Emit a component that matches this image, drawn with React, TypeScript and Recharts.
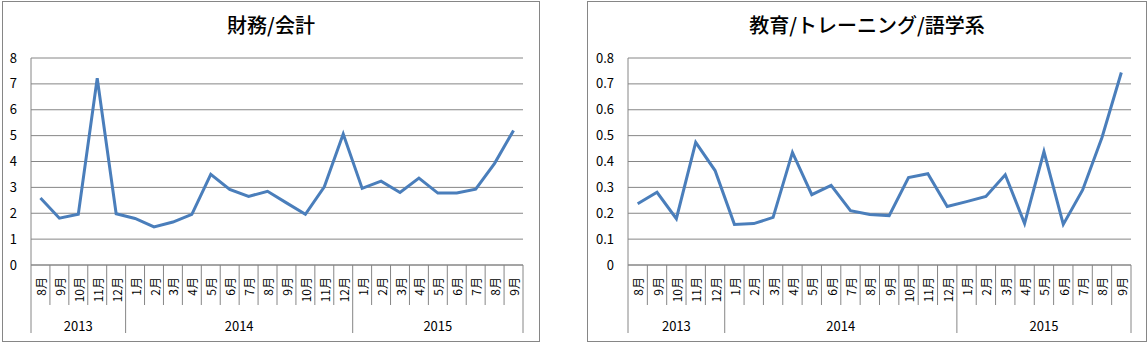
import React from 'react';
import { LineChart, Line, XAxis, YAxis, CartesianGrid } from 'recharts';

const months = [
  '8月', '9月', '10月', '11月', '12月',
  '1月', '2月', '3月', '4月', '5月', '6月', '7月', '8月', '9月', '10月', '11月', '12月',
  '1月', '2月', '3月', '4月', '5月', '6月', '7月', '8月', '9月',
];
const years = ['2013', '2014', '2015'];
const yearSpans = [5, 12, 9];

const financeValues = [
  2.59, 1.81, 1.96, 7.22, 1.98,
  1.8, 1.47, 1.66, 1.96, 3.5, 2.92, 2.65, 2.85, 2.4, 1.96, 3.02, 5.06,
  2.96, 3.24, 2.8, 3.36, 2.78, 2.78, 2.93, 3.93, 5.2,
];
const educationValues = [
  0.237, 0.281, 0.179, 0.474, 0.365,
  0.157, 0.16, 0.184, 0.435, 0.272, 0.308, 0.21, 0.195, 0.191, 0.338, 0.353, 0.226,
  0.245, 0.265, 0.349, 0.16, 0.438, 0.157, 0.29, 0.493, 0.744,
];
const financeTicks = [0, 1, 2, 3, 4, 5, 6, 7, 8];
const educationTicks = [0, 0.1, 0.2, 0.3, 0.4, 0.5, 0.6, 0.7, 0.8];

const GRID = '#868686';
const LINE = '#4a7ebb';
const FONT = '"Noto Sans CJK JP", "Noto Sans", sans-serif';

const groupStarts: number[] = [];
const groupEnds: number[] = [];
yearSpans.reduce((acc, n) => {
  groupStarts.push(acc);
  groupEnds.push(acc + n - 1);
  return acc + n;
}, 0);

const MonthTick = (props: any) => {
  const { x, y, payload, band } = props;
  const i = payload.value as number;
  const g = groupStarts.indexOf(i);
  const isEnd = groupEnds.includes(i);
  return (
    <g>
      <text
        x={x}
        y={y + 12}
        transform={`rotate(-90 ${x} ${y + 12})`}
        textAnchor="end"
        dominantBaseline="central"
        fontSize={12}
        fill="#000"
        fontFamily={FONT}
      >
        {months[i]}
      </text>
      {i === 0 && <line x1={x - band / 2} x2={x - band / 2} y1={y} y2={y + 68} stroke={GRID} />}
      <line x1={x + band / 2} x2={x + band / 2} y1={y} y2={y + (isEnd ? 68 : 40)} stroke={GRID} />
      {g >= 0 && (
        <text
          x={x - band / 2 + (yearSpans[g] * band) / 2}
          y={y + 60}
          textAnchor="middle"
          dominantBaseline="central"
          fontSize={13}
          fill="#000"
          fontFamily={FONT}
        >
          {years[g]}
        </text>
      )}
    </g>
  );
};

interface PanelProps {
  title: string;
  values: number[];
  ticks: number[];
  left: number;
  width: number;
  yAxisWidth: number;
  marginRight: number;
}

const Panel: React.FC<PanelProps> = ({ title, values, ticks, left, width, yAxisWidth, marginRight }) => {
  const chartW = width - 2;
  const chartH = 339;
  const band = (chartW - yAxisWidth - marginRight) / months.length;
  const data = values.map((v, i) => ({ idx: i, value: v }));
  return (
    <div
      style={{
        position: 'absolute',
        left,
        top: 1,
        width,
        height: 341,
        boxSizing: 'border-box',
        border: `1px solid ${GRID}`,
        background: '#fff',
      }}
    >
      <div
        style={{
          position: 'absolute',
          top: 11,
          left: 0,
          width: '100%',
          textAlign: 'center',
          fontSize: 20,
          lineHeight: '24px',
          fontWeight: 500,
          fontFamily: FONT,
          color: '#000',
        }}
      >
        {title}
      </div>
      <LineChart width={chartW} height={chartH} data={data} margin={{ top: 56, right: marginRight, bottom: 0, left: 0 }}>
        <CartesianGrid vertical={false} stroke={GRID} strokeDasharray="" />
        <XAxis
          dataKey="idx"
          scale="band"
          interval={0}
          height={76}
          tickSize={0}
          tickMargin={0}
          tickLine={false}
          axisLine={{ stroke: GRID }}
          tick={(p: any) => <MonthTick {...p} band={band} />}
        />
        <YAxis
          width={yAxisWidth}
          domain={[ticks[0], ticks[ticks.length - 1]]}
          ticks={ticks}
          interval={0}
          tickLine={false}
          tickMargin={8}
          axisLine={{ stroke: GRID }}
          tick={{ fontSize: 13, fill: '#000', fontFamily: FONT }}
        />
        <Line
          type="linear"
          dataKey="value"
          stroke={LINE}
          strokeWidth={3}
          dot={false}
          isAnimationActive={false}
        />
      </LineChart>
    </div>
  );
};

export default function App() {
  return (
    <div style={{ position: 'absolute', left: 0, top: 0, width: 1148, height: 342, background: '#fff', fontFamily: FONT }}>
      <Panel title="財務/会計" values={financeValues} ticks={financeTicks} left={2} width={538} yAxisWidth={28} marginRight={16} />
      <Panel
        title="教育/トレーニング/語学系"
        values={educationValues}
        ticks={educationTicks}
        left={587}
        width={560}
        yAxisWidth={40}
        marginRight={15}
      />
    </div>
  );
}
